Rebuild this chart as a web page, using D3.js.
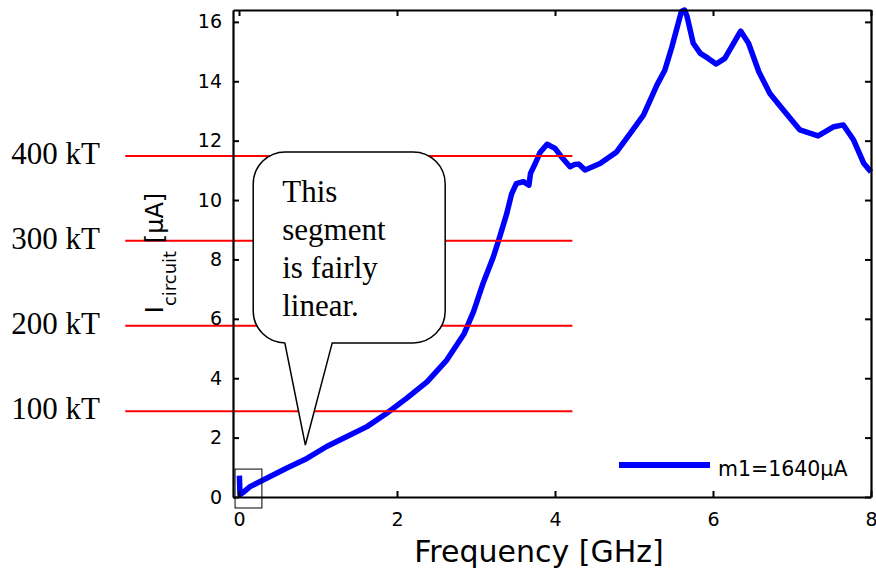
<!DOCTYPE html>
<html>
<head>
<meta charset="utf-8">
<script src="https://cdn.jsdelivr.net/npm/d3@7"></script>
<style>
  body { margin: 0; background: #fff; }
  svg { display: block; }
  .tick text { font-family: "DejaVu Sans", sans-serif; font-size: 19px; fill: #000; }
  .kt_label { font-family: "Liberation Serif", "Times New Roman", serif; font-size: 31px; }
  .note { font-family: "Liberation Serif", "Times New Roman", serif; font-size: 31px; }
  .label_title { font-family: "DejaVu Sans", sans-serif; fill: #000; }
</style>
</head>
<body>
<svg id="chart" width="876" height="574">
  <g id="series"></g>
  <g id="levels"></g>
  <g id="callout"></g>
  <g id="axes"></g>
  <g id="legend"></g>
</svg>
<script>
// frequency [GHz] and circuit current [uA]
let freq = [0.005, 0.012, 0.05, 0.14, 0.35, 0.60, 0.86, 1.11, 1.36, 1.62, 1.87, 2.12, 2.38, 2.63, 2.85,
            2.97, 3.09, 3.22, 3.30, 3.39, 3.45, 3.51, 3.60, 3.67, 3.69, 3.75, 3.81, 3.90, 4.00, 4.08,
            4.19, 4.25, 4.30, 4.38, 4.57, 4.78, 4.95, 5.12, 5.29, 5.39, 5.48, 5.60, 5.64, 5.67, 5.75,
            5.84, 5.94, 6.04, 6.15, 6.26, 6.35, 6.45, 6.58, 6.72, 6.89, 7.10, 7.33, 7.53, 7.65, 7.78,
            7.91, 8.00]
let current = [0.72, 0.08, 0.15, 0.35, 0.63, 0.97, 1.30, 1.70, 2.03, 2.37, 2.82, 3.32, 3.88, 4.61, 5.50,
               6.25, 7.20, 8.09, 8.76, 9.55, 10.20, 10.55, 10.62, 10.50, 10.90, 11.23, 11.60, 11.88, 11.74, 11.46,
               11.12, 11.20, 11.21, 11.01, 11.23, 11.62, 12.24, 12.86, 13.87, 14.37, 15.16, 16.35, 16.40, 16.20, 15.28,
               14.94, 14.77, 14.58, 14.77, 15.28, 15.69, 15.28, 14.32, 13.59, 13.03, 12.36, 12.16, 12.47, 12.53, 12.02,
               11.23, 10.95]

// kT levels and their current equivalents
let kt_labels = ["100 kT", "200 kT", "300 kT", "400 kT"]
let kt_current = [2.89, 5.77, 8.63, 11.48]
let kt_span = [-1.44, 4.22]      // GHz, the lines run out past the y axis
let kt_label_x = -1.76

let x_ticks = [0, 2, 4, 6, 8]
let y_ticks = [0, 2, 4, 6, 8, 10, 12, 14, 16]
let x_domain = [-0.076, 8]
let y_domain = [0, 16.4]

let note_lines = ["This", "segment", "is fairly", "linear."]
let legend_label = "m1=1640\u03bcA"

let width = 876,
    height = 574,
    margins = {left: 233, right: 5, top: 10, bottom: 77};

function make_scales() {
  return {
    x: d3.scaleLinear().domain(x_domain).range([margins.left, width - margins.right]),
    y: d3.scaleLinear().domain(y_domain).range([height - margins.bottom, margins.top])
  }
}

function draw_curve(scales) {
  let data = freq.map((f, i) => ({f: f, c: current[i]}))
  let path_generator = d3.line()
    .x(d => scales.x(d.f))
    .y(d => scales.y(d.c))

  d3.select("#series").append("path")
    .datum(data)
    .attr("d", path_generator)
    .attr("fill", "none")
    .attr("stroke", "#0000ff")
    .attr("stroke-width", 5.5)
    .attr("stroke-linejoin", "round")
}

function draw_levels(scales) {
  let levels = kt_labels.map((l, i) => ({label: l, c: kt_current[i]}))
  let g = d3.select("#levels")

  g.selectAll("line").data(levels).enter()
    .append("line")
    .attr("x1", scales.x(kt_span[0]))
    .attr("x2", scales.x(kt_span[1]))
    .attr("y1", d => scales.y(d.c))
    .attr("y2", d => scales.y(d.c))
    .attr("stroke", "#ff0000")
    .attr("stroke-width", 2)

  g.selectAll("text").data(levels).enter()
    .append("text")
    .attr("class", "kt_label")
    .attr("x", scales.x(kt_label_x))
    .attr("y", d => scales.y(d.c) + 8)
    .attr("text-anchor", "end")
    .text(d => d.label)
}

function draw_callout(scales) {
  // box and pointer in data units
  let x0 = scales.x(0.18), x1 = scales.x(2.61),
      y0 = scales.y(11.62), y1 = scales.y(5.19),
      r = 32,
      pl = scales.x(0.58), pr = scales.x(1.18),
      tx = scales.x(0.84), ty = scales.y(1.75)

  let p = d3.path()
  p.moveTo(x0 + r, y0)
  p.lineTo(x1 - r, y0)
  p.arcTo(x1, y0, x1, y0 + r, r)
  p.lineTo(x1, y1 - r)
  p.arcTo(x1, y1, x1 - r, y1, r)
  p.lineTo(pr, y1)
  p.lineTo(tx, ty)
  p.lineTo(pl, y1)
  p.lineTo(x0 + r, y1)
  p.arcTo(x0, y1, x0, y1 - r, r)
  p.lineTo(x0, y0 + r)
  p.arcTo(x0, y0, x0 + r, y0, r)
  p.closePath()

  let g = d3.select("#callout")
  g.append("path")
    .attr("d", p.toString())
    .attr("fill", "#fff")
    .attr("stroke", "#000")
    .attr("stroke-width", 1.5)

  g.selectAll("text").data(note_lines).enter()
    .append("text")
    .attr("class", "note")
    .attr("x", x0 + 29)
    .attr("y", (d, i) => y0 + 50 + i * 38)
    .text(d => d)

  // little box round the start of the trace
  g.append("rect")
    .attr("x", scales.x(-0.05))
    .attr("y", scales.y(0.94))
    .attr("width", scales.x(0.29) - scales.x(-0.05))
    .attr("height", scales.y(-0.37) - scales.y(0.94))
    .attr("fill", "none")
    .attr("stroke", "#000")
    .attr("stroke-width", 1)
}

function add_axes(scales) {
  let axes = d3.select("#axes")
  let bottom = height - margins.bottom,
      right = width - margins.right

  axes.append("g")
    .attr("transform", `translate(0, ${bottom})`)
    .call(d3.axisBottom(scales.x).tickValues(x_ticks).tickSizeInner(-6).tickSizeOuter(0).tickPadding(16))
  axes.append("g")
    .attr("transform", `translate(${margins.left}, 0)`)
    .call(d3.axisLeft(scales.y).tickValues(y_ticks).tickSizeInner(-6).tickSizeOuter(0).tickPadding(11))
  axes.append("g")
    .attr("transform", `translate(0, ${margins.top})`)
    .call(d3.axisTop(scales.x).tickValues(x_ticks).tickSizeInner(-6).tickSizeOuter(0).tickFormat(""))
  axes.append("g")
    .attr("transform", `translate(${right}, 0)`)
    .call(d3.axisRight(scales.y).tickValues(y_ticks).tickSizeInner(-6).tickSizeOuter(0).tickFormat(""))

  axes.selectAll(".domain").attr("stroke", "#000").attr("stroke-width", 2.2)
  axes.selectAll(".tick line").attr("stroke", "#000").attr("stroke-width", 2)

  axes.append("text")
    .attr("class", "label_title")
    .attr("x", (margins.left + right) / 2 - 13)
    .attr("y", 562)
    .attr("text-anchor", "middle")
    .style("font-size", "30px")
    .text("Frequency [GHz]")

  let y_title = axes.append("text")
    .attr("class", "label_title")
    .attr("transform", `translate(163, 253)rotate(-90)`)
    .attr("text-anchor", "middle")
    .style("font-size", "24px")
  y_title.append("tspan").text("I")
  y_title.append("tspan").attr("dy", 13).style("font-size", "18px").text("circuit")
  y_title.append("tspan").attr("dy", -13).text(" [\u03bcA]")
}

function add_legend() {
  let g = d3.select("#legend")
  g.append("line")
    .attr("x1", 619).attr("x2", 710)
    .attr("y1", 465).attr("y2", 465)
    .attr("stroke", "#0000ff")
    .attr("stroke-width", 6)
  g.append("text")
    .attr("class", "label_title")
    .attr("x", 718)
    .attr("y", 476)
    .style("font-size", "20.5px")
    .text(legend_label)
}

let scales = make_scales()
draw_curve(scales)
draw_levels(scales)
draw_callout(scales)
add_axes(scales)
add_legend()
</script>
</body>
</html>
